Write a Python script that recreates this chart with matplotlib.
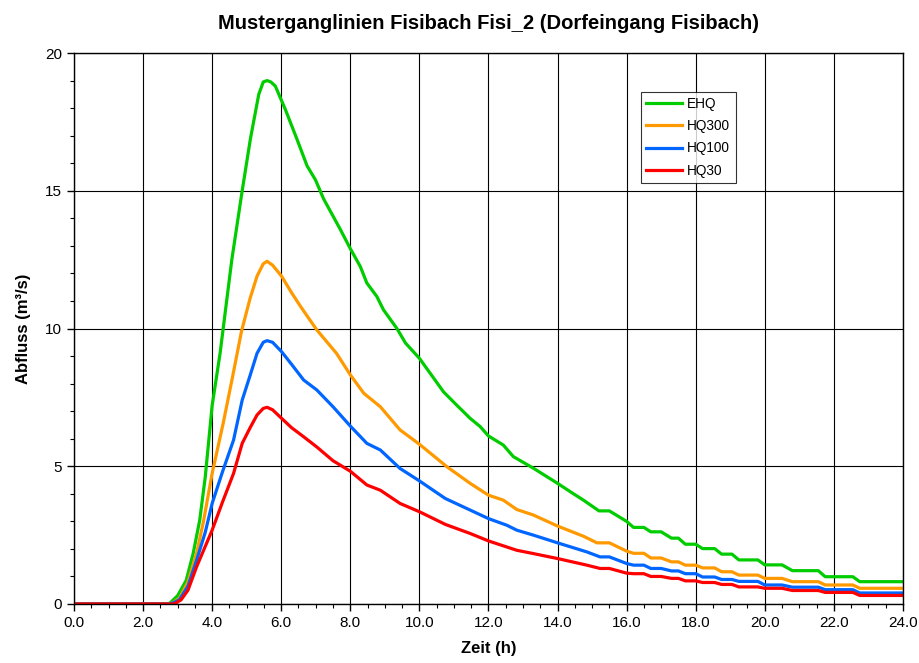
import matplotlib.pyplot as plt
from matplotlib.ticker import MultipleLocator, FormatStrFormatter

plt.rcParams['font.family'] = ['Liberation Sans', 'DejaVu Sans']

t_ehq = [0, 2.75, 3.0, 3.25, 3.45, 3.64, 3.8, 4.0, 4.23, 4.57, 4.87, 5.11, 5.35, 5.48,
         5.59, 5.7, 5.83, 6.12, 6.46, 6.75, 6.99, 7.23, 7.71, 8.0, 8.29, 8.48, 8.77,
         8.96, 9.35, 9.6, 10.0, 10.7, 11.08, 11.47, 11.76, 12.0, 12.43, 12.72, 13.3,
         14.0, 14.45, 14.75, 15.2, 15.5, 16.0, 16.2, 16.5, 16.7, 17.0, 17.3, 17.5,
         17.7, 18.0, 18.2, 18.55, 18.75, 19.05, 19.25, 19.8, 20.0, 20.5, 20.8, 21.55,
         21.75, 22.55, 22.75, 24.0]
q_ehq = [0, 0, 0.3, 0.86, 1.83, 3.04, 4.6, 7.2, 9.1, 12.5, 15.0, 16.9, 18.5, 18.95,
         19.0, 18.95, 18.8, 17.95, 16.86, 15.9, 15.4, 14.7, 13.6, 12.9, 12.25, 11.65, 11.16,
         10.68, 10.0, 9.47, 8.92, 7.7, 7.22, 6.74, 6.44, 6.1, 5.77, 5.35, 4.93,
         4.38, 4.01, 3.77, 3.38, 3.38, 3.0, 2.78, 2.78, 2.62, 2.62, 2.39, 2.39,
         2.17, 2.17, 2.01, 2.01, 1.81, 1.81, 1.6, 1.6, 1.42, 1.42, 1.21, 1.21,
         0.99, 0.99, 0.81, 0.81]

t_hq300 = [0, 2.8, 3.05, 3.3, 3.55, 3.75, 4.0, 4.32, 4.6, 4.85, 5.1, 5.3, 5.48, 5.59,
           5.75, 6.01, 6.3, 6.56, 7.03, 7.6, 8.0, 8.39, 8.87, 9.44, 10.0, 10.8, 11.47,
           12.0, 12.43, 12.82, 13.3, 14.0, 14.75, 15.14, 15.5, 16.0, 16.2, 16.5, 16.7,
           17.0, 17.3, 17.5, 17.7, 18.0, 18.2, 18.55, 18.75, 19.05, 19.25, 19.8, 20.0,
           20.5, 20.8, 21.55, 21.75, 22.55, 22.75, 24.0]
q_hq300 = [0, 0, 0.2, 0.8, 1.84, 3.0, 4.74, 6.56, 8.3, 9.9, 11.1, 11.9, 12.35, 12.44,
           12.3, 11.9, 11.3, 10.8, 9.95, 9.1, 8.32, 7.65, 7.16, 6.32, 5.8, 4.98, 4.38,
           3.95, 3.77, 3.43, 3.23, 2.83, 2.46, 2.22, 2.22, 1.92, 1.84, 1.84, 1.67,
           1.67, 1.53, 1.53, 1.41, 1.41, 1.31, 1.31, 1.17, 1.17, 1.05, 1.05, 0.93,
           0.93, 0.81, 0.81, 0.69, 0.69, 0.57, 0.57]

t_hq100 = [0, 2.8, 3.05, 3.3, 3.55, 3.8, 4.0, 4.3, 4.62, 4.87, 5.1, 5.3, 5.48, 5.59,
           5.75, 6.01, 6.3, 6.65, 7.03, 7.5, 8.0, 8.48, 8.87, 9.44, 10.0, 10.75, 11.47,
           12.0, 12.53, 12.82, 13.3, 14.0, 14.85, 15.23, 15.5, 16.0, 16.2, 16.5, 16.7,
           17.0, 17.3, 17.5, 17.7, 18.0, 18.2, 18.55, 18.75, 19.05, 19.25, 19.8, 20.0,
           20.5, 20.8, 21.55, 21.75, 22.55, 22.75, 24.0]
q_hq100 = [0, 0, 0.15, 0.65, 1.59, 2.6, 3.65, 4.8, 5.95, 7.4, 8.3, 9.1, 9.5, 9.56,
           9.5, 9.16, 8.7, 8.13, 7.77, 7.16, 6.46, 5.83, 5.59, 4.92, 4.47, 3.83, 3.41,
           3.1, 2.86, 2.68, 2.5, 2.22, 1.89, 1.71, 1.71, 1.47, 1.41, 1.41, 1.29,
           1.29, 1.2, 1.2, 1.1, 1.1, 0.98, 0.98, 0.89, 0.89, 0.82, 0.82, 0.69,
           0.69, 0.61, 0.61, 0.52, 0.52, 0.4, 0.4]

t_hq30 = [0, 2.9, 3.1, 3.3, 3.55, 4.0, 4.3, 4.62, 4.87, 5.1, 5.3, 5.48, 5.59, 5.75,
          6.01, 6.3, 6.65, 7.03, 7.5, 8.0, 8.48, 8.87, 9.44, 10.0, 10.75, 11.47, 12.0,
          12.53, 12.82, 13.3, 14.0, 14.85, 15.23, 15.5, 16.0, 16.2, 16.5, 16.7, 17.0,
          17.3, 17.5, 17.7, 18.0, 18.2, 18.55, 18.75, 19.05, 19.25, 19.8, 20.0, 20.5,
          20.8, 21.55, 21.75, 22.55, 22.75, 24.0]
q_hq30 = [0, 0, 0.15, 0.5, 1.35, 2.68, 3.7, 4.74, 5.83, 6.4, 6.86, 7.1, 7.14, 7.05,
          6.74, 6.4, 6.07, 5.7, 5.2, 4.82, 4.32, 4.13, 3.65, 3.35, 2.89, 2.56, 2.29,
          2.07, 1.95, 1.83, 1.65, 1.41, 1.29, 1.29, 1.12, 1.1, 1.1, 1.0, 1.0,
          0.93, 0.93, 0.84, 0.84, 0.78, 0.78, 0.71, 0.71, 0.62, 0.62, 0.57, 0.57,
          0.49, 0.49, 0.42, 0.42, 0.31, 0.31]

# ---- Figure ----
fig = plt.figure(figsize=(9.19, 6.63), dpi=100)
ax = fig.add_axes([0.0805, 0.089, 0.902, 0.831])

ax.plot(t_ehq, q_ehq, color='#00cc00', lw=2.3, label='EHQ')
ax.plot(t_hq300, q_hq300, color='#ff9900', lw=2.3, label='HQ300')
ax.plot(t_hq100, q_hq100, color='#0066ff', lw=2.3, label='HQ100')
ax.plot(t_hq30, q_hq30, color='#ff0000', lw=2.3, label='HQ30')

ax.set_xlim(0, 24)
ax.set_ylim(0, 20)
ax.xaxis.set_major_locator(MultipleLocator(2))
ax.xaxis.set_minor_locator(MultipleLocator(0.5))
ax.xaxis.set_major_formatter(FormatStrFormatter('%.1f'))
ax.yaxis.set_major_locator(MultipleLocator(5))
ax.yaxis.set_minor_locator(MultipleLocator(1))
ax.tick_params(which='major', length=5, width=1, labelsize=11, direction='out')
ax.tick_params(which='minor', length=3, width=0.8, direction='out')
ax.grid(True, which='major', color='black', lw=0.8)
ax.set_axisbelow(True)
for s in ax.spines.values():
    s.set_linewidth(1)

ax.set_title('Musterganglinien Fisibach Fisi_2 (Dorfeingang Fisibach)',
             fontsize=14.5, fontweight='bold', pad=17)
ax.set_xlabel('Zeit (h)', fontsize=12, fontweight='bold', labelpad=8)
ax.set_ylabel('Abfluss (m³/s)', fontsize=12, fontweight='bold', labelpad=10)

leg = ax.legend(loc='upper left', bbox_to_anchor=(0.684, 0.93), fontsize=9.8,
                frameon=True, fancybox=False, edgecolor='black', handlelength=2.6,
                handletextpad=0.4, labelspacing=0.6, borderpad=0.4, borderaxespad=0)
leg.get_frame().set_linewidth(0.8)

fig.savefig('out.png', dpi=100)
